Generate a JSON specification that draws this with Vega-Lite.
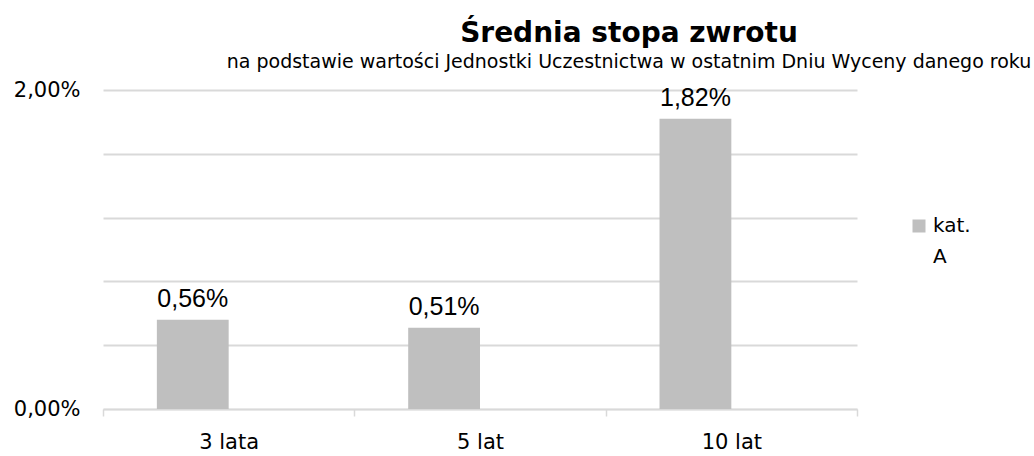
{
  "$schema": "https://vega.github.io/schema/vega-lite/v6.json",
  "width": 754,
  "height": 319,
  "autosize": {"type": "none"},
  "padding": {"left": 103, "top": 90, "right": 177, "bottom": 47},
  "background": "white",
  "config": {
    "locale": {"number": {"decimal": ",", "thousands": " ", "grouping": [3], "currency": ["", " zł"]}},
    "view": {"stroke": null}
  },
  "title": {
    "text": "Średnia stopa zwrotu",
    "subtitle": "na podstawie wartości Jednostki Uczestnictwa w ostatnim Dniu Wyceny danego roku",
    "anchor": "middle",
    "frame": "group",
    "dx": 149,
    "font": "DejaVu Sans",
    "fontSize": 28,
    "fontWeight": "bold",
    "color": "#000000",
    "subtitleFont": "DejaVu Sans",
    "subtitleFontSize": 19,
    "subtitleColor": "#000000",
    "subtitlePadding": 5,
    "offset": 7
  },
  "data": {
    "values": [
      {"okres": "3 lata", "seria": "kat. A", "wartosc": 0.0056},
      {"okres": "5 lat", "seria": "kat. A", "wartosc": 0.0051},
      {"okres": "10 lat", "seria": "kat. A", "wartosc": 0.0182}
    ]
  },
  "encoding": {
    "x": {
      "field": "okres",
      "type": "nominal",
      "sort": null,
      "scale": {"paddingInner": 0, "paddingOuter": 0},
      "axis": {
        "title": null,
        "labelAngle": 0,
        "labelFont": "DejaVu Sans",
        "labelFontSize": 21,
        "labelColor": "#000000",
        "labelPadding": 15,
        "domainColor": "#d9d9d9",
        "domainWidth": 1.5,
        "tickColor": "#d9d9d9",
        "tickWidth": 1.5,
        "tickSize": 7,
        "tickBand": "extent",
        "grid": false
      }
    },
    "xOffset": {
      "field": "seria",
      "type": "nominal",
      "scale": {"domain": ["kat. A", "kat. B"], "paddingInner": 0, "paddingOuter": 0.75}
    },
    "y": {
      "field": "wartosc",
      "type": "quantitative",
      "scale": {"domain": [0, 0.02], "nice": false},
      "axis": {
        "title": null,
        "values": [0, 0.004, 0.008, 0.012, 0.016, 0.02],
        "format": ".2%",
        "labelExpr": "datum.value == 0 || datum.value == 0.02 ? datum.label : ''",
        "labelFont": "DejaVu Sans",
        "labelFontSize": 21,
        "labelColor": "#000000",
        "labelPadding": 23,
        "domain": false,
        "ticks": false,
        "grid": true,
        "gridColor": "#d9d9d9",
        "gridWidth": 2
      }
    }
  },
  "layer": [
    {
      "mark": {"type": "bar", "color": "#bfbfbf"},
      "encoding": {
        "color": {
          "field": "seria",
          "type": "nominal",
          "scale": {"domain": ["kat. A"], "range": ["#bfbfbf"]},
          "legend": {
            "title": null,
            "orient": "none",
            "legendX": 806,
            "legendY": 126,
            "symbolType": "square",
            "symbolSize": 169,
            "symbolStrokeWidth": 0,
            "labelFont": "DejaVu Sans",
            "labelFontSize": 20,
            "labelColor": "#000000",
            "labelOffset": 4,
            "labelExpr": "['kat.', 'A']",
            "labelBaseline": "top",
            "encode": {
              "labels": {"update": {"lineHeight": {"value": 31}, "dy": {"value": -10}}}
            }
          }
        }
      }
    },
    {
      "mark": {"type": "text", "baseline": "bottom", "dy": -8, "font": "Liberation Sans", "fontSize": 25, "color": "#000000"},
      "encoding": {
        "text": {"field": "wartosc", "type": "quantitative", "format": ".2%"}
      }
    }
  ]
}
